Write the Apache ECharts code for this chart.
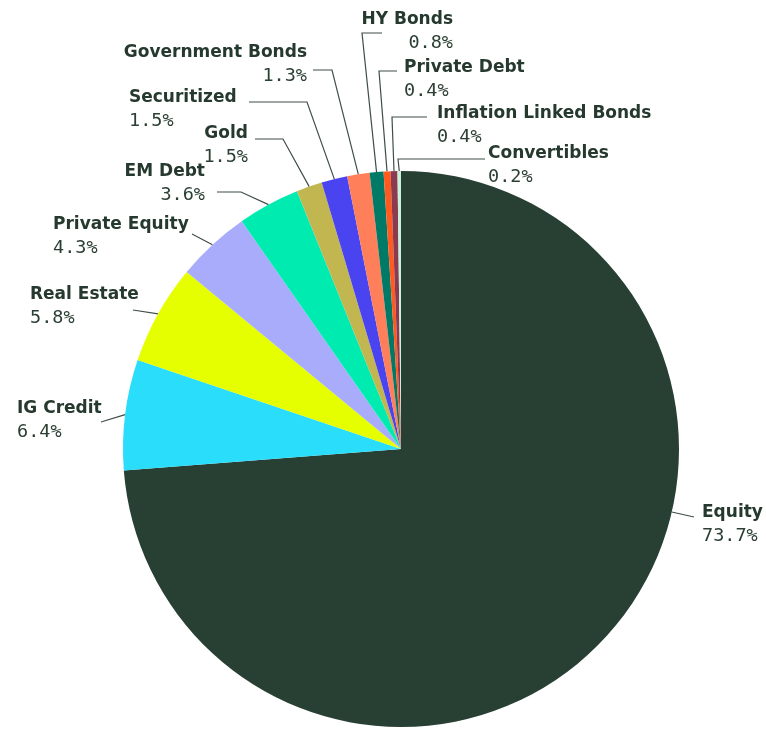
<!DOCTYPE html>
<html>
<head>
<meta charset="utf-8">
<script src="https://cdn.jsdelivr.net/npm/echarts@6/dist/echarts.min.js"></script>
<style>
html,body{margin:0;padding:0;background:#ffffff;}
#chart{width:766px;height:731px;}
</style>
</head>
<body>
<div id="chart"></div>
<script>
// ---- data ----
const categories = ['Equity','IG Credit','Real Estate','Private Equity','EM Debt','Gold','Securitized','Government Bonds','HY Bonds','Private Debt','Inflation Linked Bonds','Convertibles'];
const values = [73.7, 6.4, 5.8, 4.3, 3.6, 1.5, 1.5, 1.3, 0.8, 0.4, 0.4, 0.2];
const colors = ['#283F33','#29DDFB','#E5FF00','#A8ACFA','#00EBB0','#C2B651','#4A44F0','#FF7F5A','#007A67','#FF5A1F','#8B3A50','#C9F2DC'];

// ---- layout / style (not data) ----
const CX = 401, CY = 449, R = 278;
// label text anchor (x of aligned edge, y of name line centre), side alignment, leader elbow points
const labelPlacement = [
  {x:702, y:511, align:'left',  edgeAtY:512, pts:[[694,517]]},
  {x:17,  y:407, align:'left',  pts:[[101,422]]},
  {x:30,  y:293, align:'left',  pts:[[133,310]]},
  {x:53,  y:223, align:'left',  pts:[[192,234]]},
  {x:205, y:170, align:'right', pts:[[241,192],[217,192]]},
  {x:248, y:132, align:'right', pts:[[283,139],[255,139]]},
  {x:129, y:96,  align:'left',  pts:[[307,102],[249,102]]},
  {x:307, y:51,  align:'right', pts:[[332,70],[313,70]]},
  {x:453, y:18,  align:'right', pts:[[362,33],[382,33]]},
  {x:404, y:66,  align:'left',  pts:[[379,71],[397,71]]},
  {x:437, y:112, align:'left',  pts:[[392,117],[427,117]]},
  {x:488, y:152, align:'left',  pts:[[398,159],[485,159]]}
];
const LINE_H = 23.5;
const Y_SHIFT = 2;
const textColor = '#26392E';

const total = values.reduce((a,b)=>a+b,0);
let cum = 0;
const midAngles = values.map(v => { const a = (cum + v/2) / total * 2 * Math.PI; cum += v; return a; });
function edgePoint(i){
  const p = labelPlacement[i];
  if (p.edgeAtY != null) {
    const dy = p.edgeAtY - CY;
    return [CX + Math.sqrt(R*R - dy*dy), p.edgeAtY];
  }
  const a = midAngles[i];
  return [CX + R*Math.sin(a), CY - R*Math.cos(a)];
}

const chart = echarts.init(document.getElementById('chart'), null, {renderer:'canvas'});
const data = categories.map((c,i)=>({name:c, value:values[i], itemStyle:{color:colors[i]}}));
const nameStyle = {fontFamily:'DejaVu Sans',fontWeight:'bold',fontSize:17,color:textColor,lineHeight:LINE_H};
const valStyle = {fontFamily:'DejaVu Sans Mono',fontSize:18.5,color:'#2B3F33',lineHeight:LINE_H};
chart.setOption({
  animation:false,
  series:[{
    type:'pie',
    center:[CX,CY],
    radius:[0,R],
    startAngle:90,
    clockwise:true,
    avoidLabelOverlap:false,
    data:data,
    itemStyle:{borderWidth:0},
    label:{
      show:true,
      position:'outside',
      padding:0,
      formatter:p=>{
        const s = labelPlacement[p.dataIndex].align === 'right' ? 'r' : 'l';
        return '{n'+s+'|'+p.name+'}\n{v'+s+'|'+p.value.toFixed(1)+'%}';
      },
      rich:{
        nl:Object.assign({align:'left'},nameStyle),
        vl:Object.assign({align:'left'},valStyle),
        nr:Object.assign({align:'right'},nameStyle),
        vr:Object.assign({align:'right'},valStyle)
      }
    },
    labelLine:{show:true,length:10,length2:10,lineStyle:{color:'#3F4F47',width:1.2}},
    labelLayout:function(params){
      const i = params.dataIndex;
      const p = labelPlacement[i];
      return {
        x:p.x,
        y:p.y - LINE_H/2 + Y_SHIFT,
        align:p.align,
        verticalAlign:'top',
        labelLinePoints:[edgePoint(i)].concat(p.pts)
      };
    }
  }]
});
</script>
</body>
</html>
